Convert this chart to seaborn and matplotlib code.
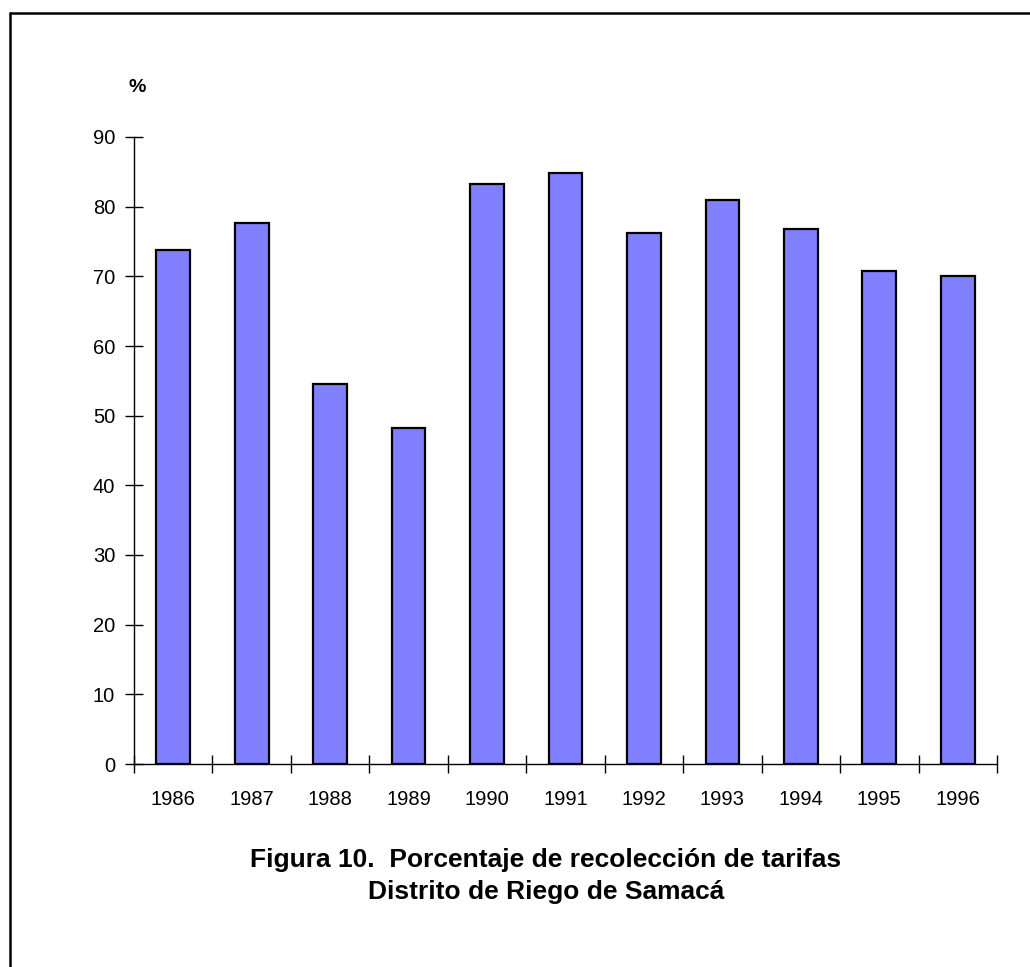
import numpy as np
import matplotlib
matplotlib.use("Agg")
import matplotlib.pyplot as plt
from matplotlib.lines import Line2D
import seaborn as sns

# data
years = ['1986', '1987', '1988', '1989', '1990', '1991',
         '1992', '1993', '1994', '1995', '1996']
recoleccion = [73.8, 77.7, 54.5, 48.3, 83.2, 84.8,
               76.2, 81.0, 76.8, 70.8, 70.0]
y_ticks = [0, 10, 20, 30, 40, 50, 60, 70, 80, 90]

sns.set_theme(style='white')
plt.rcParams['font.family'] = ['Liberation Sans', 'DejaVu Sans']
plt.rcParams['text.color'] = 'black'

fig = plt.figure(figsize=(10.3, 9.67), dpi=100)
ax = fig.add_axes([134 / 1030, 1 - 764 / 967, (997 - 134) / 1030, (764 - 137) / 967])

sns.barplot(x=years, y=recoleccion, color='#8080FF', saturation=1,
            edgecolor='black', linewidth=1.6, width=0.43, ax=ax)

ax.set_xlim(-0.5, len(years) - 0.5)
ax.set_ylim(0, 90)
ax.set_yticks(y_ticks)
ax.set_xlabel('')
ax.set_ylabel('')

for side in ['top', 'right']:
    ax.spines[side].set_visible(False)
for side in ['left', 'bottom']:
    ax.spines[side].set_color('black')
    ax.spines[side].set_linewidth(1.0)

# labels at bar centres, tick marks between categories
ax.set_xticks(np.arange(-0.5, len(years)), minor=True)
ax.tick_params(axis='x', which='major', length=0, pad=19, labelsize=14.5,
               colors='black')
ax.tick_params(axis='x', which='minor', length=13, width=1, direction='inout',
               color='black', bottom=True)
ax.tick_params(axis='y', which='major', length=13, width=1, direction='inout',
               pad=7, labelsize=14.5, colors='black', left=True)

fig.text(137 / 1030, 1 - 87 / 967, '%', color='black',
         fontsize=14, fontweight='bold', ha='center', va='center')

fig.text(546 / 1030, 1 - 860 / 967, 'Figura 10.  Porcentaje de recolección de tarifas',
         color='black', fontsize=19, fontweight='bold', ha='center', va='center')
fig.text(546 / 1030, 1 - 892 / 967, 'Distrito de Riego de Samacá',
         color='black', fontsize=19, fontweight='bold', ha='center', va='center')

# outer frame (only left and top edges visible in the picture)
fig.add_artist(Line2D([10 / 1030, 10 / 1030], [0, 1 - 13 / 967],
                      transform=fig.transFigure, color='black', linewidth=1.8))
fig.add_artist(Line2D([10 / 1030, 1], [1 - 13 / 967, 1 - 13 / 967],
                      transform=fig.transFigure, color='black', linewidth=1.8))

fig.savefig('out.png', dpi=100, facecolor='white')
